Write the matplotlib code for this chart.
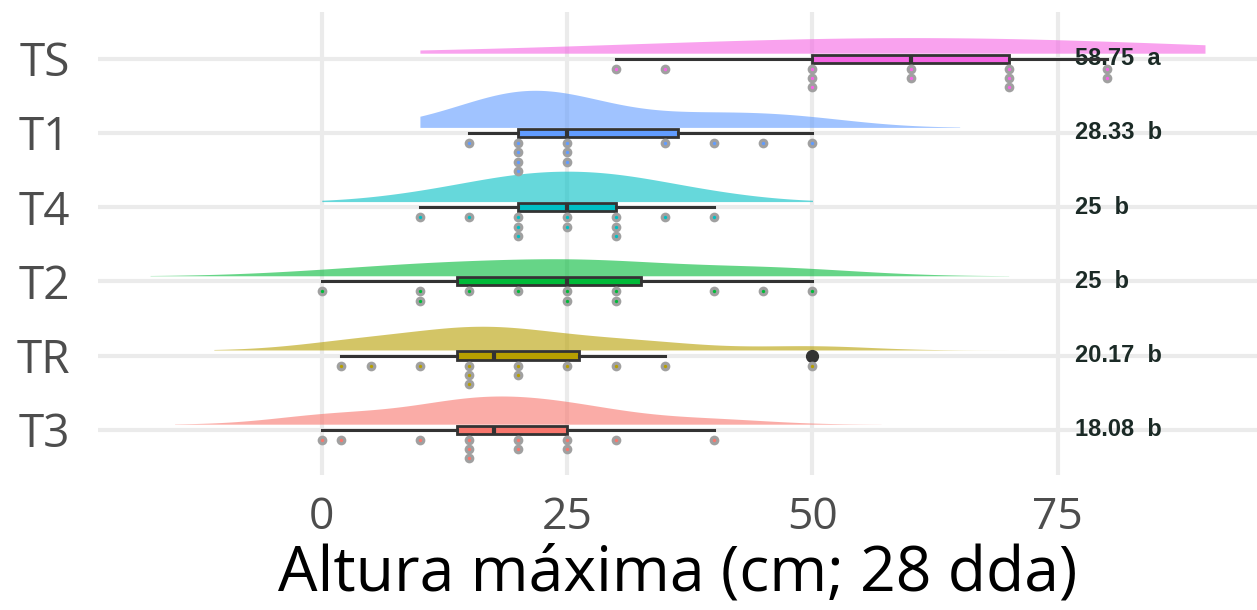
import numpy as np
import matplotlib
matplotlib.use("Agg")
import matplotlib.pyplot as plt

# treatments from bottom to top
TREATMENTS = ["T3", "TR", "T2", "T4", "T1", "TS"]
COLORS = ["#F8766D", "#B79F00", "#00BA38", "#00BFC4", "#619CFF", "#F564E3"]

HEIGHT_T3 = [0, 2, 10, 15, 15, 15, 20, 20, 25, 25, 30, 40]
HEIGHT_TR = [2, 5, 10, 15, 15, 15, 20, 20, 25, 30, 35, 50]
HEIGHT_T2 = [0, 10, 10, 15, 20, 25, 25, 30, 30, 40, 45, 50]
HEIGHT_T4 = [10, 15, 20, 20, 20, 25, 25, 30, 30, 30, 35, 40]
HEIGHT_T1 = [15, 20, 20, 20, 20, 25, 25, 25, 35, 40, 45, 50]
HEIGHT_TS = [30, 35, 50, 50, 50, 60, 60, 70, 70, 70, 80, 80]

MEANS = ["18.08", "20.17", "25", "25", "28.33", "58.75"]
LETTERS = ["b", "b", "b", "b", "b", "a"]

# density settings: bandwidth, grid start, grid end, peak height
DENSITY = [
    (6.0, -15, 57, 0.38),
    (6.0, -11, 70, 0.32),
    (8.0, -17.5, 70, 0.23),
    (6.0, 0, 50, 0.41),
    (6.5, 10, 65, 0.50),
    (22.0, 10, 90, 0.21),
]


def kde(values, grid, bw):
    values = np.asarray(values, dtype=float)
    d = (grid[:, None] - values[None, :]) / bw
    return np.exp(-0.5 * d ** 2).sum(axis=1)


def main():
    plt.rcParams["font.family"] = ["Open Sans", "DejaVu Sans"]
    data = [HEIGHT_T3, HEIGHT_TR, HEIGHT_T2, HEIGHT_T4, HEIGHT_T1, HEIGHT_TS]
    pos = np.arange(1, len(TREATMENTS) + 1)

    fig = plt.figure(figsize=(12.57, 6.10), dpi=100)
    ax = fig.add_axes([0.078, 0.2213, 0.922, 0.7590])

    # densities
    for y, vals, color, (bw, lo, hi, peak) in zip(pos, data, COLORS, DENSITY):
        grid = np.linspace(lo, hi, 400)
        dens = kde(vals, grid, bw)
        dens = dens / dens.max() * peak
        base = y + 0.075
        ax.fill_between(grid, base, base + dens, color=color, alpha=0.6,
                        linewidth=0, zorder=2)

    # mean labels
    for y, m, letter in zip(pos, MEANS, LETTERS):
        ax.text(76.8, y, f"{m}  {letter}", ha="left", va="center",
                fontsize=17, fontweight="bold", color="#1b2a26",
                family=["Liberation Sans", "DejaVu Sans"], zorder=3)

    # boxplots
    bp = ax.boxplot(data, positions=pos, vert=False, widths=0.11,
                    patch_artist=True, showcaps=False, manage_ticks=False,
                    whiskerprops=dict(color="#333333", linewidth=2.2),
                    boxprops=dict(edgecolor="#333333", linewidth=2.0),
                    medianprops=dict(color="#333333", linewidth=3.0),
                    flierprops=dict(marker="o", markerfacecolor="#333333",
                                    markeredgecolor="#333333", markersize=8.5))
    for patch, color in zip(bp["boxes"], COLORS):
        patch.set_facecolor(color)
        patch.set_zorder(4)
    for key in ("whiskers", "medians", "fliers"):
        for art in bp[key]:
            art.set_zorder(4)

    # stacked raw points below each box
    for y, vals, color in zip(pos, data, COLORS):
        seen = {}
        xs, ys = [], []
        for v in vals:
            k = seen.get(v, 0)
            seen[v] = k + 1
            xs.append(v)
            ys.append(y - 0.135 - k * 0.126)
        ax.plot(xs, ys, "o", color="#a0a0a0", markersize=7.0,
                markeredgewidth=0, zorder=5)
        ax.plot(xs, ys, "o", color=color, markersize=2.4,
                markeredgewidth=0, zorder=6)

    ax.set_xlim(-22.8, 95.3)
    ax.set_ylim(0.39, 6.63)
    ax.set_xticks([0, 25, 50, 75])
    ax.set_yticks(pos)
    ax.set_yticklabels(TREATMENTS)
    ax.tick_params(axis="x", length=0, labelsize=32, labelcolor="#4d4d4d", pad=15)
    ax.tick_params(axis="y", length=0, labelsize=33, labelcolor="#4d4d4d", pad=20)
    ax.grid(True, color="#ebebeb", linewidth=3.0, zorder=0)
    ax.set_axisbelow(True)
    for s in ax.spines.values():
        s.set_visible(False)
    ax.set_xlabel("Altura máxima (cm; 28 dda)", fontsize=45, color="black", labelpad=2)

    fig.savefig("out.png", dpi=100)
    plt.close(fig)


if __name__ == "__main__":
    main()
